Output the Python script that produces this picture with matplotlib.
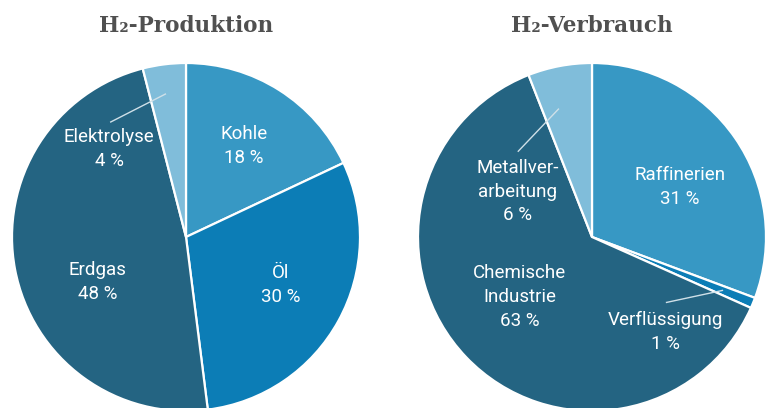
import matplotlib.pyplot as plt
import numpy as np

# data
prod_labels = ['Kohle', 'Öl', 'Erdgas', 'Elektrolyse']
prod_values = [18, 30, 48, 4]
verb_labels = ['Raffinerien', 'Verflüssigung', 'Chemische\nIndustrie', 'Metallver-\narbeitung']
verb_values = [31, 1, 63, 6]

colors = ['#3798c4', '#0c7db6', '#246482', '#80bdda']

# label placement: (radius fraction, angle in degrees) relative to the pie, leader (r0, a0 offset, r1, a1)
prod_pos = [(0.62, 0), (0.61, 2), (0.57, 16), (0.67, 34)]
prod_lead = [None, None, None, (0.83, 1, 0.79, 26)]
verb_pos = [(0.58, -5), (0.69, -30), (0.54, -4), (0.50, 48)]
verb_lead = [None, (0.81, 0, 0.57, -19), None, (0.76, 4, 0.65, 30)]

W, H = 771, 408
fig = plt.figure(figsize=(W / 100, H / 100), dpi=100)
R = 174


def draw(cx, cy, title, labels, values, pos, lead):
    ax = fig.add_axes([(cx - R) / W, (H - cy - R) / H, 2 * R / W, 2 * R / H])
    wedges, _ = ax.pie(values, colors=colors, startangle=90, counterclock=False,
                       radius=1, wedgeprops=dict(edgecolor='white', linewidth=1.6))
    for w, lab, v, (rd, da), ld in zip(wedges, labels, values, pos, lead):
        mid = (w.theta1 + w.theta2) / 2
        a = np.radians(mid + da)
        ax.text(rd * np.cos(a), rd * np.sin(a), f'{lab}\n{v} %', ha='center', va='center',
                color='white', fontsize=13.5, family='Roboto', linespacing=1.4)
        if ld:
            r0, a0, r1, a1 = ld
            t0, t1 = np.radians(mid + a0), np.radians(mid + a1)
            ax.plot([r0 * np.cos(t0), r1 * np.cos(t1)], [r0 * np.sin(t0), r1 * np.sin(t1)],
                    color='#cfe0e8', lw=1)
    ax.set_xlim(-1, 1)
    ax.set_ylim(-1, 1)
    ax.axis('off')
    fig.text(cx / W, 1 - 26 / H, title, ha='center', va='center', fontsize=15.5,
             fontweight='bold', family='DejaVu Serif', color='#505050')


draw(186, 237, 'H₂-Produktion', prod_labels, prod_values, prod_pos, prod_lead)
draw(592, 237, 'H₂-Verbrauch', verb_labels, verb_values, verb_pos, verb_lead)

fig.savefig('out.png', dpi=100)
